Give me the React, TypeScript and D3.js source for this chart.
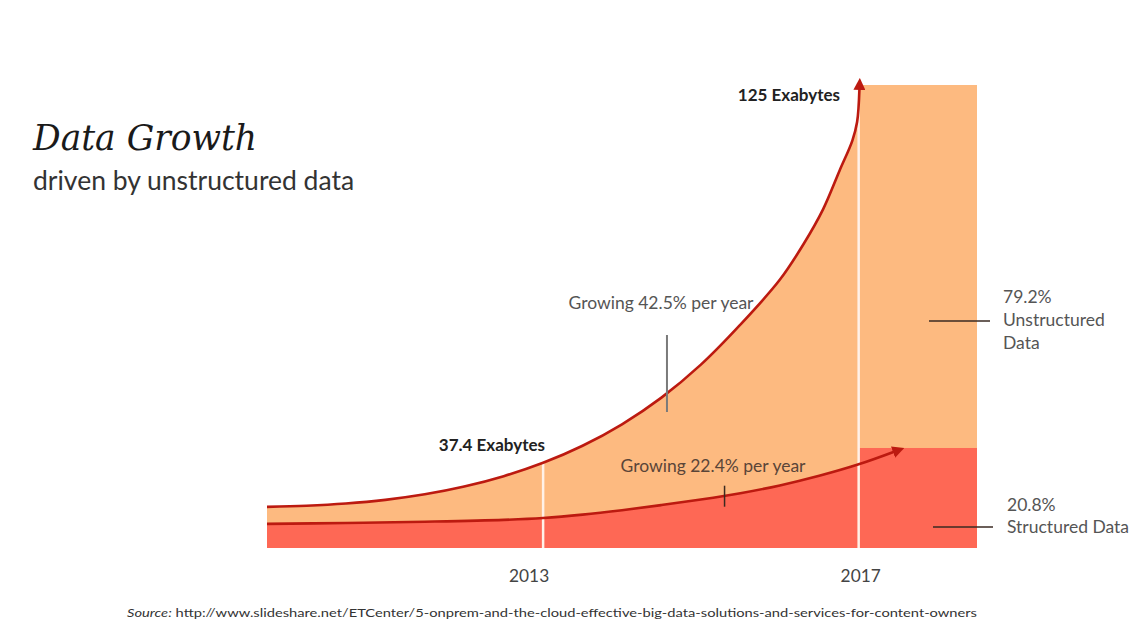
import React from "react";
import * as d3 from "d3";

const WIDTH = 1140;
const HEIGHT = 642;

// Total data volume (exabytes) along the upper growth curve
const totalYears = [2009.5, 2010, 2010.5, 2011, 2011.5, 2012, 2012.5, 2013, 2013.5, 2014, 2014.5, 2015, 2015.5, 2016, 2016.3, 2016.55, 2016.76, 2016.92, 2016.98, 2017.01];
const totalValues = [11.1, 11.4, 12.0, 13.0, 14.5, 16.6, 19.4, 23.0, 27.6, 33.4, 40.6, 49.5, 60.3, 72.4, 82, 91.5, 102, 110, 115, 124];

// Structured data volume (exabytes) along the lower growth curve
const structuredYears = [2009.5, 2010.5, 2011.5, 2012.5, 2013, 2013.5, 2014, 2014.5, 2015, 2015.5, 2016, 2016.5, 2017, 2017.45];
const structuredValues = [6.5, 6.75, 7.1, 7.6, 8.1, 9.0, 10.2, 11.6, 13.1, 14.8, 16.9, 19.5, 22.6, 26.0];

// 2017 bar
const barYears = [2017, 2018.5];
const barTotal = 125;
const barStructured = 27;

const tickYears = [2013, 2017];
const tickLabels = ["2013", "2017"];
const gridValues = [23.0, 125];

const shareLabels = [["79.2%", "Unstructured", "Data"], ["20.8%", "Structured Data"]];
const shareValues = [61.3, 5.7];

const growthLabels = ["Growing 42.5% per year", "Growing 22.4% per year"];
const growthYears = [2014.57, 2015.3];
const volumeLabels = ["125 Exabytes", "37.4 Exabytes"];

const ORANGE = "#FDBA80";
const RED = "#FE6855";
const LINE = "#BC1A10";
const FONT = "Lato, 'Open Sans', sans-serif";

export default function App() {
  const x = d3.scaleLinear().domain([2009.5, 2018.5]).range([267, 977]);
  const y = d3.scaleLinear().domain([0, 125]).range([548, 85]);

  const total = totalYears.map((t, i) => [t, totalValues[i]] as [number, number]);
  const structured = structuredYears.map((t, i) => [t, structuredValues[i]] as [number, number]);
  const structuredFill = structured.filter((d) => d[0] <= 2017);
  const totalFill = [...total, [2017.01, barTotal] as [number, number]];

  const curve = d3.curveCatmullRom.alpha(0.5);
  const area = d3
    .area<[number, number]>()
    .x((d) => x(d[0]))
    .y0(y(0))
    .y1((d) => y(d[1]))
    .curve(curve);
  const line = d3
    .line<[number, number]>()
    .x((d) => x(d[0]))
    .y((d) => y(d[1]))
    .curve(curve);

  const interp = (xs: number[], vs: number[], t: number) => {
    const i = d3.bisectLeft(xs, t);
    const t0 = xs[i - 1], t1 = xs[i];
    return vs[i - 1] + ((t - t0) / (t1 - t0)) * (vs[i] - vs[i - 1]);
  };

  const g1y = y(interp(totalYears, totalValues, growthYears[0]));
  const g2y = y(interp(structuredYears, structuredValues, growthYears[1]));

  return (
    <svg width={WIDTH} height={HEIGHT} style={{ position: "absolute", left: 0, top: 0, background: "#fff" }}>
      <defs>
        <marker id="arrow" viewBox="0 0 10 10" refX="1" refY="5" markerWidth="12" markerHeight="12" markerUnits="userSpaceOnUse" orient="auto">
          <path d="M0,0 L10,5 L0,10 z" fill={LINE} />
        </marker>
      </defs>

      {/* Title */}
      <text x={33} y={150} fontFamily="'DejaVu Serif', serif" fontStyle="italic" fontSize={34.5} fill="#1a1a1a">
        Data Growth
      </text>
      <text x={33} y={190} fontFamily={FONT} fontSize={26.5} fill="#333">
        driven by unstructured data
      </text>

      {/* Areas */}
      <path d={area(totalFill) || ""} fill={ORANGE} />
      <path d={area(structuredFill) || ""} fill={RED} />

      {/* 2017 bar */}
      <rect x={x(barYears[0])} y={y(barTotal)} width={x(barYears[1]) - x(barYears[0])} height={y(barStructured) - y(barTotal)} fill={ORANGE} />
      <rect x={x(barYears[0])} y={y(barStructured)} width={x(barYears[1]) - x(barYears[0])} height={y(0) - y(barStructured)} fill={RED} />

      {/* Year gridlines */}
      {tickYears.map((t, i) => (
        <line key={t} x1={x(t)} x2={x(t)} y1={y(gridValues[i])} y2={y(0)} stroke="#FFF1E8" strokeWidth={2.5} />
      ))}

      {/* Growth curves with arrows */}
      <path d={line(total) || ""} fill="none" stroke={LINE} strokeWidth={2.6} markerEnd="url(#arrow)" />
      <path d={line(structured) || ""} fill="none" stroke={LINE} strokeWidth={2.6} markerEnd="url(#arrow)" />

      {/* Growth annotations */}
      <line x1={x(growthYears[0])} x2={x(growthYears[0])} y1={g1y - 58} y2={g1y + 19} stroke="#7a7a7a" strokeWidth={2} />
      <text x={661} y={309} textAnchor="middle" fontFamily={FONT} fontSize={17.5} fill="#555">
        {growthLabels[0]}
      </text>
      <line x1={x(growthYears[1])} x2={x(growthYears[1])} y1={g2y - 10} y2={g2y + 11} stroke="#3a2a20" strokeWidth={1.5} />
      <text x={713} y={472} textAnchor="middle" fontFamily={FONT} fontSize={17.5} fill="#5a4538">
        {growthLabels[1]}
      </text>

      {/* Volume labels */}
      <text x={840} y={101} textAnchor="end" fontFamily={FONT} fontWeight="bold" fontSize={17} fill="#222">
        {volumeLabels[0]}
      </text>
      <text x={545} y={451} textAnchor="end" fontFamily={FONT} fontWeight="bold" fontSize={17} fill="#222">
        {volumeLabels[1]}
      </text>

      {/* Year labels */}
      {tickYears.map((t, i) => (
        <text key={t} x={x(t) - (i === 0 ? 14 : -2)} y={582} textAnchor="middle" fontFamily={FONT} fontSize={17.3} fill="#444">
          {tickLabels[i]}
        </text>
      ))}

      {/* Share labels */}
      {shareLabels.map((lines, i) => {
        const ly = y(shareValues[i]);
        const tx = i === 0 ? 1003 : 1007;
        const first = i === 0 ? -18 : -16;
        const step = i === 0 ? 23 : 22;
        return (
          <g key={i}>
            <line x1={i === 0 ? 929 : 933} x2={i === 0 ? 990 : 993} y1={ly} y2={ly} stroke="#3a2a22" strokeWidth={1.5} />
            {lines.map((s, j) => (
              <text key={j} x={tx} y={ly + first + j * step} fontFamily={FONT} fontSize={17.5} fill="#555">
                {s}
              </text>
            ))}
          </g>
        );
      })}

      {/* Source */}
      <text x={127} y={617} fontFamily={FONT} fontSize={12} fill="#333" textLength={850} lengthAdjust="spacingAndGlyphs">
        <tspan fontStyle="italic">Source:</tspan> http://www.slideshare.net/ETCenter/5-onprem-and-the-cloud-effective-big-data-solutions-and-services-for-content-owners
      </text>
    </svg>
  );
}
